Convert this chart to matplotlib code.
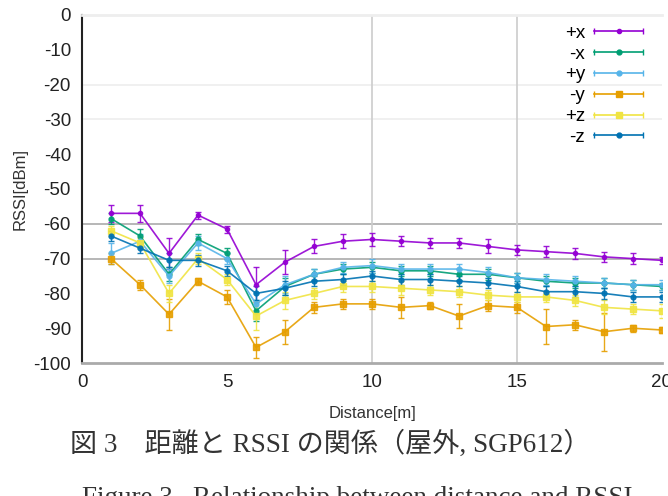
"""RSSI vs. distance (outdoor, SGP612) for six antenna orientations."""

import matplotlib

matplotlib.use("Agg")
import matplotlib.pyplot as plt
from matplotlib.legend_handler import HandlerBase
from matplotlib.lines import Line2D

# distance [m]
distance = list(range(1, 21))

labels = ["+x", "-x", "+y", "-y", "+z", "-z"]
colors = ["#9400d3", "#009e73", "#56b4e9", "#e69f00", "#f0e442", "#0072b2"]

rssi_px = [-57, -57, -68.5, -57.5, -61.5, -77.5, -71, -66.5, -65, -64.5,
           -65, -65.5, -65.5, -66.5, -67.5, -68, -68.5, -69.5, -70, -70.5]
rssi_mx = [-58.5, -63.5, -74.5, -64.5, -68.5, -85, -78, -74.5, -73, -72.5,
           -73.5, -73.5, -74.5, -74.5, -75.5, -76.5, -77, -77, -77.5, -78]
rssi_py = [-68.5, -65, -75, -65.5, -70, -83, -77.5, -74.5, -72.5, -72,
           -73, -73, -73, -74, -75.5, -76, -76.5, -77, -77.5, -77.5]
rssi_my = [-70, -77.5, -86, -76.5, -81, -95.5, -91, -84, -83, -83,
           -84, -83.5, -86.5, -83.5, -84, -89.5, -89, -91, -90, -90.5]
rssi_pz = [-62, -65.5, -80, -70, -76, -86.5, -82, -80, -78, -78,
           -78.5, -79, -79.5, -80.5, -81, -81, -82, -84, -84.5, -85]
rssi_mz = [-63.5, -67, -70.5, -70.5, -73.5, -80, -78.5, -76.5, -76, -75,
           -76, -76, -76.5, -77, -78, -79.5, -79.5, -80, -81, -81]

# standard deviation (error bar half-length)
err_px = [2.5, 2.5, 4.5, 1, 1, 5, 3.5, 2, 2, 2,
          1.5, 1.5, 1.5, 2, 1.5, 1.5, 1.5, 1.5, 1.5, 1]
err_mx = [1.5, 2, 2, 1.5, 1.5, 3, 2.5, 1.5, 1.5, 1.5,
          1.5, 1.5, 1.5, 1.5, 1.5, 1.5, 1.5, 1.5, 1.5, 1]
err_py = [3, 2, 2, 2, 1.5, 3, 2.5, 1.5, 1.5, 2,
          1.5, 1.5, 1.5, 1.5, 1.5, 1.5, 1.5, 1.5, 1.5, 1.5]
err_my = [1.5, 1.5, 4.5, 1, 2, 3, 3.5, 1.5, 1.5, 1.5,
          3, 1, 3.5, 1.5, 1.5, 5, 1.5, 5.5, 1, 1]
err_pz = [1.5, 1.5, 2.5, 1.5, 1.5, 4, 2.5, 1.5, 1.5, 1.5,
          2, 1.5, 1.5, 1.5, 1.5, 1.5, 1.5, 2, 1.5, 2]
err_mz = [1.5, 1.5, 2, 1.5, 1.5, 2, 2, 1.5, 1.5, 1.5,
          1.5, 1.5, 1.5, 1.5, 1.5, 1.5, 1.5, 1.5, 1.5, 1.5]

series = [rssi_px, rssi_mx, rssi_py, rssi_my, rssi_pz, rssi_mz]
errors = [err_px, err_mx, err_py, err_my, err_pz, err_mz]
markers = ["o", "o", "o", "s", "s", "o"]
msizes = [3, 3.5, 3.5, 5, 4.5, 3.5]

x_ticks = [0, 5, 10, 15, 20]
y_ticks = list(range(0, -101, -10))

caption_ja = "図 3\u3000距離と RSSI の関係（屋外, SGP612）"
caption_en = "Figure 3   Relationship between distance and RSSI"


class ErrKeyHandler(HandlerBase):
    """gnuplot-style key: line with end ticks and a centre point."""

    def create_artists(self, legend, orig_handle, xdescent, ydescent,
                       width, height, fontsize, trans):
        y = height / 2 - ydescent
        x0, x1 = -xdescent, width - xdescent
        c = orig_handle.get_color()
        line = Line2D([x0, x1], [y, y], color=c, lw=1.2)
        caps = Line2D([x0, x1], [y, y], ls="none", marker="|", ms=5,
                      mew=1.0, color=c)
        dot = Line2D([(x0 + x1) / 2], [y], ls="none",
                     marker=orig_handle.get_marker(),
                     ms=orig_handle.get_markersize(), color=c)
        for a in (line, caps, dot):
            a.set_transform(trans)
        return [line, caps, dot]


plt.rcParams["font.family"] = ["Liberation Sans", "DejaVu Sans"]
plt.rcParams["axes.unicode_minus"] = False

fig = plt.figure(figsize=(6.68, 4.96), dpi=100)
ax = fig.add_axes([0.1228, 0.268, 0.8682, 0.702])

handles = []
for lab, col, ys, es, mk, ms in zip(labels, colors, series, errors, markers, msizes):
    ax.errorbar(distance, ys, yerr=es, color=col, lw=1.2, marker=mk, ms=ms,
                capsize=2, elinewidth=1.0, capthick=1.0, alpha=0.9)
    handles.append(Line2D([], [], color=col, marker=mk, ms=ms, label=lab))

# grid lines as they appear in the original
for gy, gc in [(-20, "#eeeeee"), (-30, "#eeeeee"), (-60, "#aaaaaa"), (-70, "#aaaaaa")]:
    ax.axhline(gy, color=gc, lw=1.2, zorder=0)
for gx in [10, 15]:
    ax.axvline(gx, color="#cccccc", lw=1.2, zorder=0)

ax.set_xlim(0, 20)
ax.set_ylim(-100, 0)
ax.set_xticks(x_ticks)
ax.set_yticks(y_ticks)
ax.tick_params(length=0, labelsize=13.5, pad=8, colors="#222222")
ax.spines["left"].set_color("#222222")
ax.spines["left"].set_linewidth(1.5)
ax.spines["bottom"].set_color("#aaaaaa")
ax.spines["bottom"].set_linewidth(2)
ax.spines["top"].set_color("#eeeeee")
ax.spines["top"].set_linewidth(2)
ax.spines["right"].set_visible(False)

ax.set_xlabel("Distance[m]", fontsize=12, color="#333333", labelpad=11)
ax.set_ylabel("RSSI[dBm]", fontsize=12, color="#333333", labelpad=4)

ax.legend(handles=handles, handler_map={Line2D: ErrKeyHandler()},
          loc="upper right", bbox_to_anchor=(0.99, 1.01), frameon=False,
          markerfirst=False, fontsize=13.5, handlelength=2.6,
          handletextpad=0.5, labelspacing=0.2, borderaxespad=0.3)

fig.text(0.494, 0.105, caption_ja, ha="center", va="center", fontsize=19.5,
         family=["Liberation Serif", "Noto Sans CJK JP"], color="#333333")
fig.text(0.535, -0.006, caption_en, ha="center", va="center", fontsize=19.5,
         family=["Liberation Serif", "Noto Sans CJK JP"], color="#333333")

fig.savefig("out.png", dpi=100)
